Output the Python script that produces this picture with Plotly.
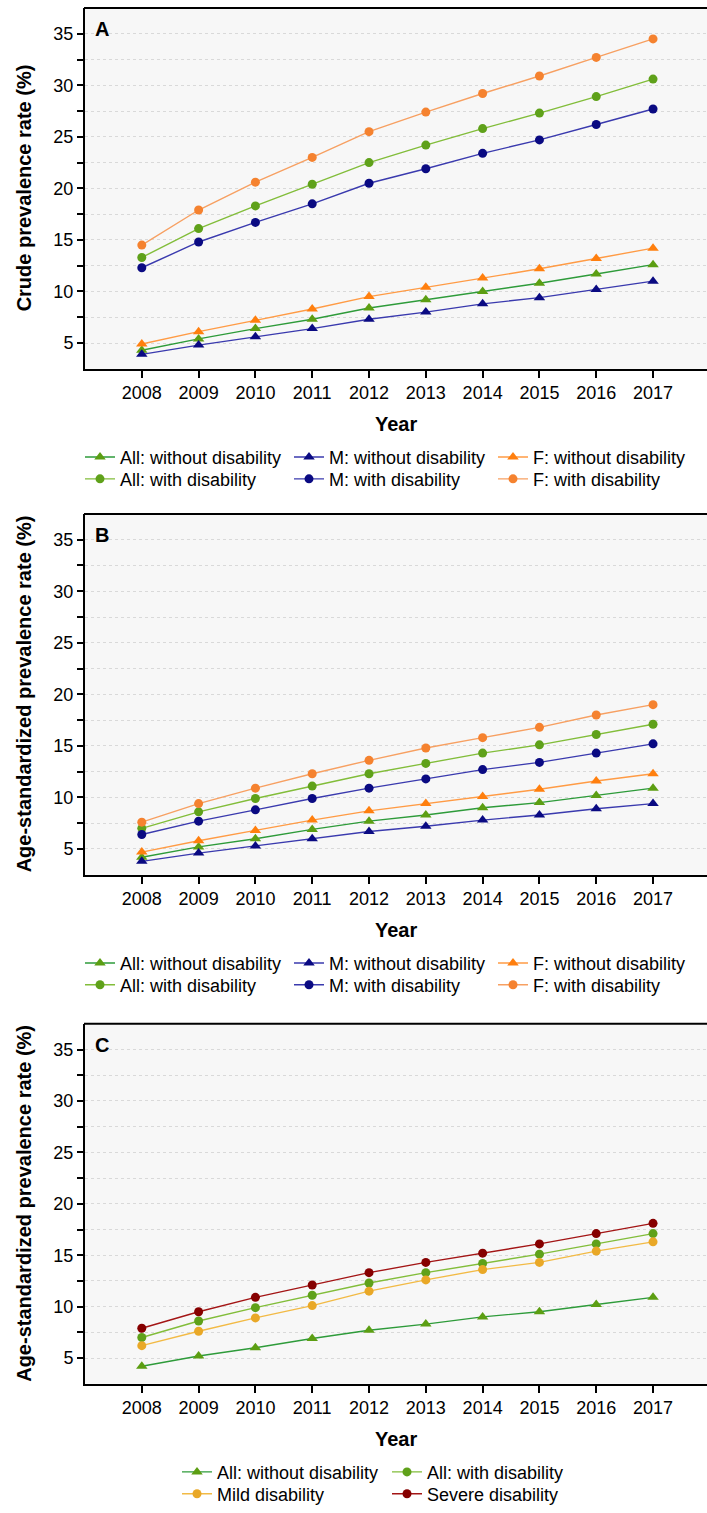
import plotly.graph_objects as go

years = [2008, 2009, 2010, 2011, 2012, 2013, 2014, 2015, 2016, 2017]
y_ticks = [5, 10, 15, 20, 25, 30, 35]
y_minor = [7.5, 12.5, 17.5, 22.5, 27.5, 32.5]

# Panel A: crude prevalence (%)
a_all_wo = [4.3, 5.4, 6.4, 7.3, 8.4, 9.2, 10.0, 10.8, 11.7, 12.6]
a_m_wo = [3.9, 4.8, 5.6, 6.4, 7.3, 8.0, 8.8, 9.4, 10.2, 11.0]
a_f_wo = [4.9, 6.1, 7.2, 8.3, 9.5, 10.4, 11.3, 12.2, 13.2, 14.2]
a_all_w = [13.3, 16.1, 18.3, 20.4, 22.5, 24.2, 25.8, 27.3, 28.9, 30.6]
a_m_w = [12.3, 14.8, 16.7, 18.5, 20.5, 21.9, 23.4, 24.7, 26.2, 27.7]
a_f_w = [14.5, 17.9, 20.6, 23.0, 25.5, 27.4, 29.2, 30.9, 32.7, 34.5]

# Panel B: age-standardized prevalence (%)
b_all_wo = [4.2, 5.2, 6.0, 6.9, 7.7, 8.3, 9.0, 9.5, 10.2, 10.9]
b_m_wo = [3.8, 4.6, 5.3, 6.0, 6.7, 7.2, 7.8, 8.3, 8.9, 9.4]
b_f_wo = [4.7, 5.8, 6.8, 7.8, 8.7, 9.4, 10.1, 10.8, 11.6, 12.3]
b_all_w = [7.0, 8.6, 9.9, 11.1, 12.3, 13.3, 14.3, 15.1, 16.1, 17.1]
b_m_w = [6.4, 7.7, 8.8, 9.9, 10.9, 11.8, 12.7, 13.4, 14.3, 15.2]
b_f_w = [7.6, 9.4, 10.9, 12.3, 13.6, 14.8, 15.8, 16.8, 18.0, 19.0]

# Panel C: age-standardized prevalence by disability severity (%)
c_all_wo = [4.2, 5.2, 6.0, 6.9, 7.7, 8.3, 9.0, 9.5, 10.2, 10.9]
c_all_w = [7.0, 8.6, 9.9, 11.1, 12.3, 13.3, 14.2, 15.1, 16.1, 17.1]
c_mild = [6.2, 7.6, 8.9, 10.1, 11.5, 12.6, 13.6, 14.3, 15.4, 16.3]
c_severe = [7.9, 9.5, 10.9, 12.1, 13.3, 14.3, 15.2, 16.1, 17.1, 18.1]

W, H = 707, 1513
FONT = "Liberation Sans, Arial, sans-serif"


def px(x):
    return x / W


def py(y):
    return 1 - y / H


panels = [(8, 371), (517, 880), (1030, 1392)]
x_left = 85

styles = {
    "all_wo": dict(line="#2e9b3a", marker="#5c9e12", symbol="triangle-up"),
    "m_wo": dict(line="#3a3aae", marker="#0a0a82", symbol="triangle-up"),
    "f_wo": dict(line="#ff9b45", marker="#ff7f0e", symbol="triangle-up"),
    "all_w": dict(line="#82bd3a", marker="#5fa11a", symbol="circle"),
    "m_w": dict(line="#3a3aae", marker="#0a0a82", symbol="circle"),
    "f_w": dict(line="#f7a062", marker="#f5822f", symbol="circle"),
    "mild": dict(line="#f2ba45", marker="#e9a827", symbol="circle"),
    "severe": dict(line="#a31515", marker="#860000", symbol="circle"),
}

fig = go.Figure()
legends = {}
leg_count = [0]


def add(idx, key, name, ys, col_x, row_y):
    st = styles[key]
    ax = "" if idx == 1 else str(idx)
    tri = st["symbol"] == "triangle-up"
    leg_count[0] += 1
    lname = "legend" if leg_count[0] == 1 else "legend%d" % leg_count[0]
    legends[lname] = dict(
        orientation="v", x=px(col_x), xanchor="left", y=py(row_y), yanchor="middle",
        font=dict(size=18, family=FONT), bgcolor="rgba(0,0,0,0)", itemwidth=30,
    )
    fig.add_trace(go.Scatter(
        x=years, y=ys, name=name, mode="lines+markers",
        xaxis="x" + ax, yaxis="y" + ax, legend=lname,
        line=dict(color=st["line"], width=1.4),
        marker=dict(color=st["marker"], symbol=st["symbol"], size=10 if tri else 9,
                    line=dict(width=0)),
    ))


colsAB = [80, 289, 493]
colsC = [177, 387]
r1 = [b + 89 for _, b in panels]
r2 = [b + 111 for _, b in panels]

add(1, "all_wo", "All: without disability", a_all_wo, colsAB[0], r1[0])
add(1, "m_wo", "M: without disability", a_m_wo, colsAB[1], r1[0])
add(1, "f_wo", "F: without disability", a_f_wo, colsAB[2], r1[0])
add(1, "all_w", "All: with disability", a_all_w, colsAB[0], r2[0])
add(1, "m_w", "M: with disability", a_m_w, colsAB[1], r2[0])
add(1, "f_w", "F: with disability", a_f_w, colsAB[2], r2[0])

add(2, "all_wo", "All: without disability", b_all_wo, colsAB[0], r1[1])
add(2, "m_wo", "M: without disability", b_m_wo, colsAB[1], r1[1])
add(2, "f_wo", "F: without disability", b_f_wo, colsAB[2], r1[1])
add(2, "all_w", "All: with disability", b_all_w, colsAB[0], r2[1])
add(2, "m_w", "M: with disability", b_m_w, colsAB[1], r2[1])
add(2, "f_w", "F: with disability", b_f_w, colsAB[2], r2[1])

add(3, "all_wo", "All: without disability", c_all_wo, colsC[0], r1[2])
add(3, "all_w", "All: with disability", c_all_w, colsC[1], r1[2])
add(3, "mild", "Mild disability", c_mild, colsC[0], r2[2])
add(3, "severe", "Severe disability", c_severe, colsC[1], r2[2])

layout = dict(
    width=W, height=H,
    margin=dict(l=0, r=0, t=0, b=0),
    paper_bgcolor="white",
    plot_bgcolor="#f7f7f7",
    font=dict(family=FONT, color="black"),
    showlegend=True,
)
layout.update(legends)

ytitles = ["Crude prevalence rate (%)", "Age-standardized prevalence rate (%)",
           "Age-standardized prevalence rate (%)"]
letters = ["A", "B", "C"]
annotations = []
shapes = []

for i, (top, bot) in enumerate(panels):
    ax = "" if i == 0 else str(i + 1)
    layout["xaxis" + ax] = dict(
        domain=[px(x_left), 1.0], anchor="y" + ax, range=[2007.0, 2017.95],
        tickvals=years, ticks="outside", ticklen=7, tickwidth=1.5, tickcolor="black",
        showline=True, linewidth=2, linecolor="black",
        showgrid=False, zeroline=False, tickfont=dict(size=18, family=FONT),
    )
    layout["yaxis" + ax] = dict(
        domain=[py(bot), py(top)], anchor="x" + ax, range=[2.5, 37.5],
        tickvals=y_ticks, ticks="outside", ticklen=6, tickwidth=1.5, tickcolor="black",
        showline=True, linewidth=2, linecolor="black",
        showgrid=True, gridcolor="#d9d9d9", griddash="dot", gridwidth=1,
        zeroline=False, tickfont=dict(size=18, family=FONT),
        minor=dict(tickvals=y_minor, ticks="outside", ticklen=6, tickwidth=1.5,
                   tickcolor="black", showgrid=True, gridcolor="#d9d9d9",
                   griddash="dot", gridwidth=1),
    )
    # top frame line of the panel
    shapes.append(dict(
        type="line", xref="paper", yref="paper",
        x0=px(x_left - 1), x1=1.0, y0=py(top), y1=py(top),
        line=dict(color="black", width=2),
    ))
    annotations.append(dict(
        text="<b>%s</b>" % letters[i], xref="paper", yref="paper",
        x=px(x_left + 8), y=py(top + 21), xanchor="left", yanchor="middle",
        showarrow=False, font=dict(size=20, family=FONT),
    ))
    annotations.append(dict(
        text="<b>%s</b>" % ytitles[i], xref="paper", yref="paper",
        x=px(24), y=py((top + bot) / 2), xanchor="center", yanchor="middle",
        textangle=-90, showarrow=False, font=dict(size=20, family=FONT),
    ))
    annotations.append(dict(
        text="<b>Year</b>", xref="paper", yref="paper",
        x=px(396), y=py(bot + 56), xanchor="center", yanchor="middle",
        showarrow=False, font=dict(size=20, family=FONT),
    ))

layout["annotations"] = annotations
layout["shapes"] = shapes
fig.update_layout(**layout)
fig.write_html(
    "out.html",
    config={"displayModeBar": False},
    post_script="document.body.style.margin='0';document.body.style.overflow='hidden';",
)
